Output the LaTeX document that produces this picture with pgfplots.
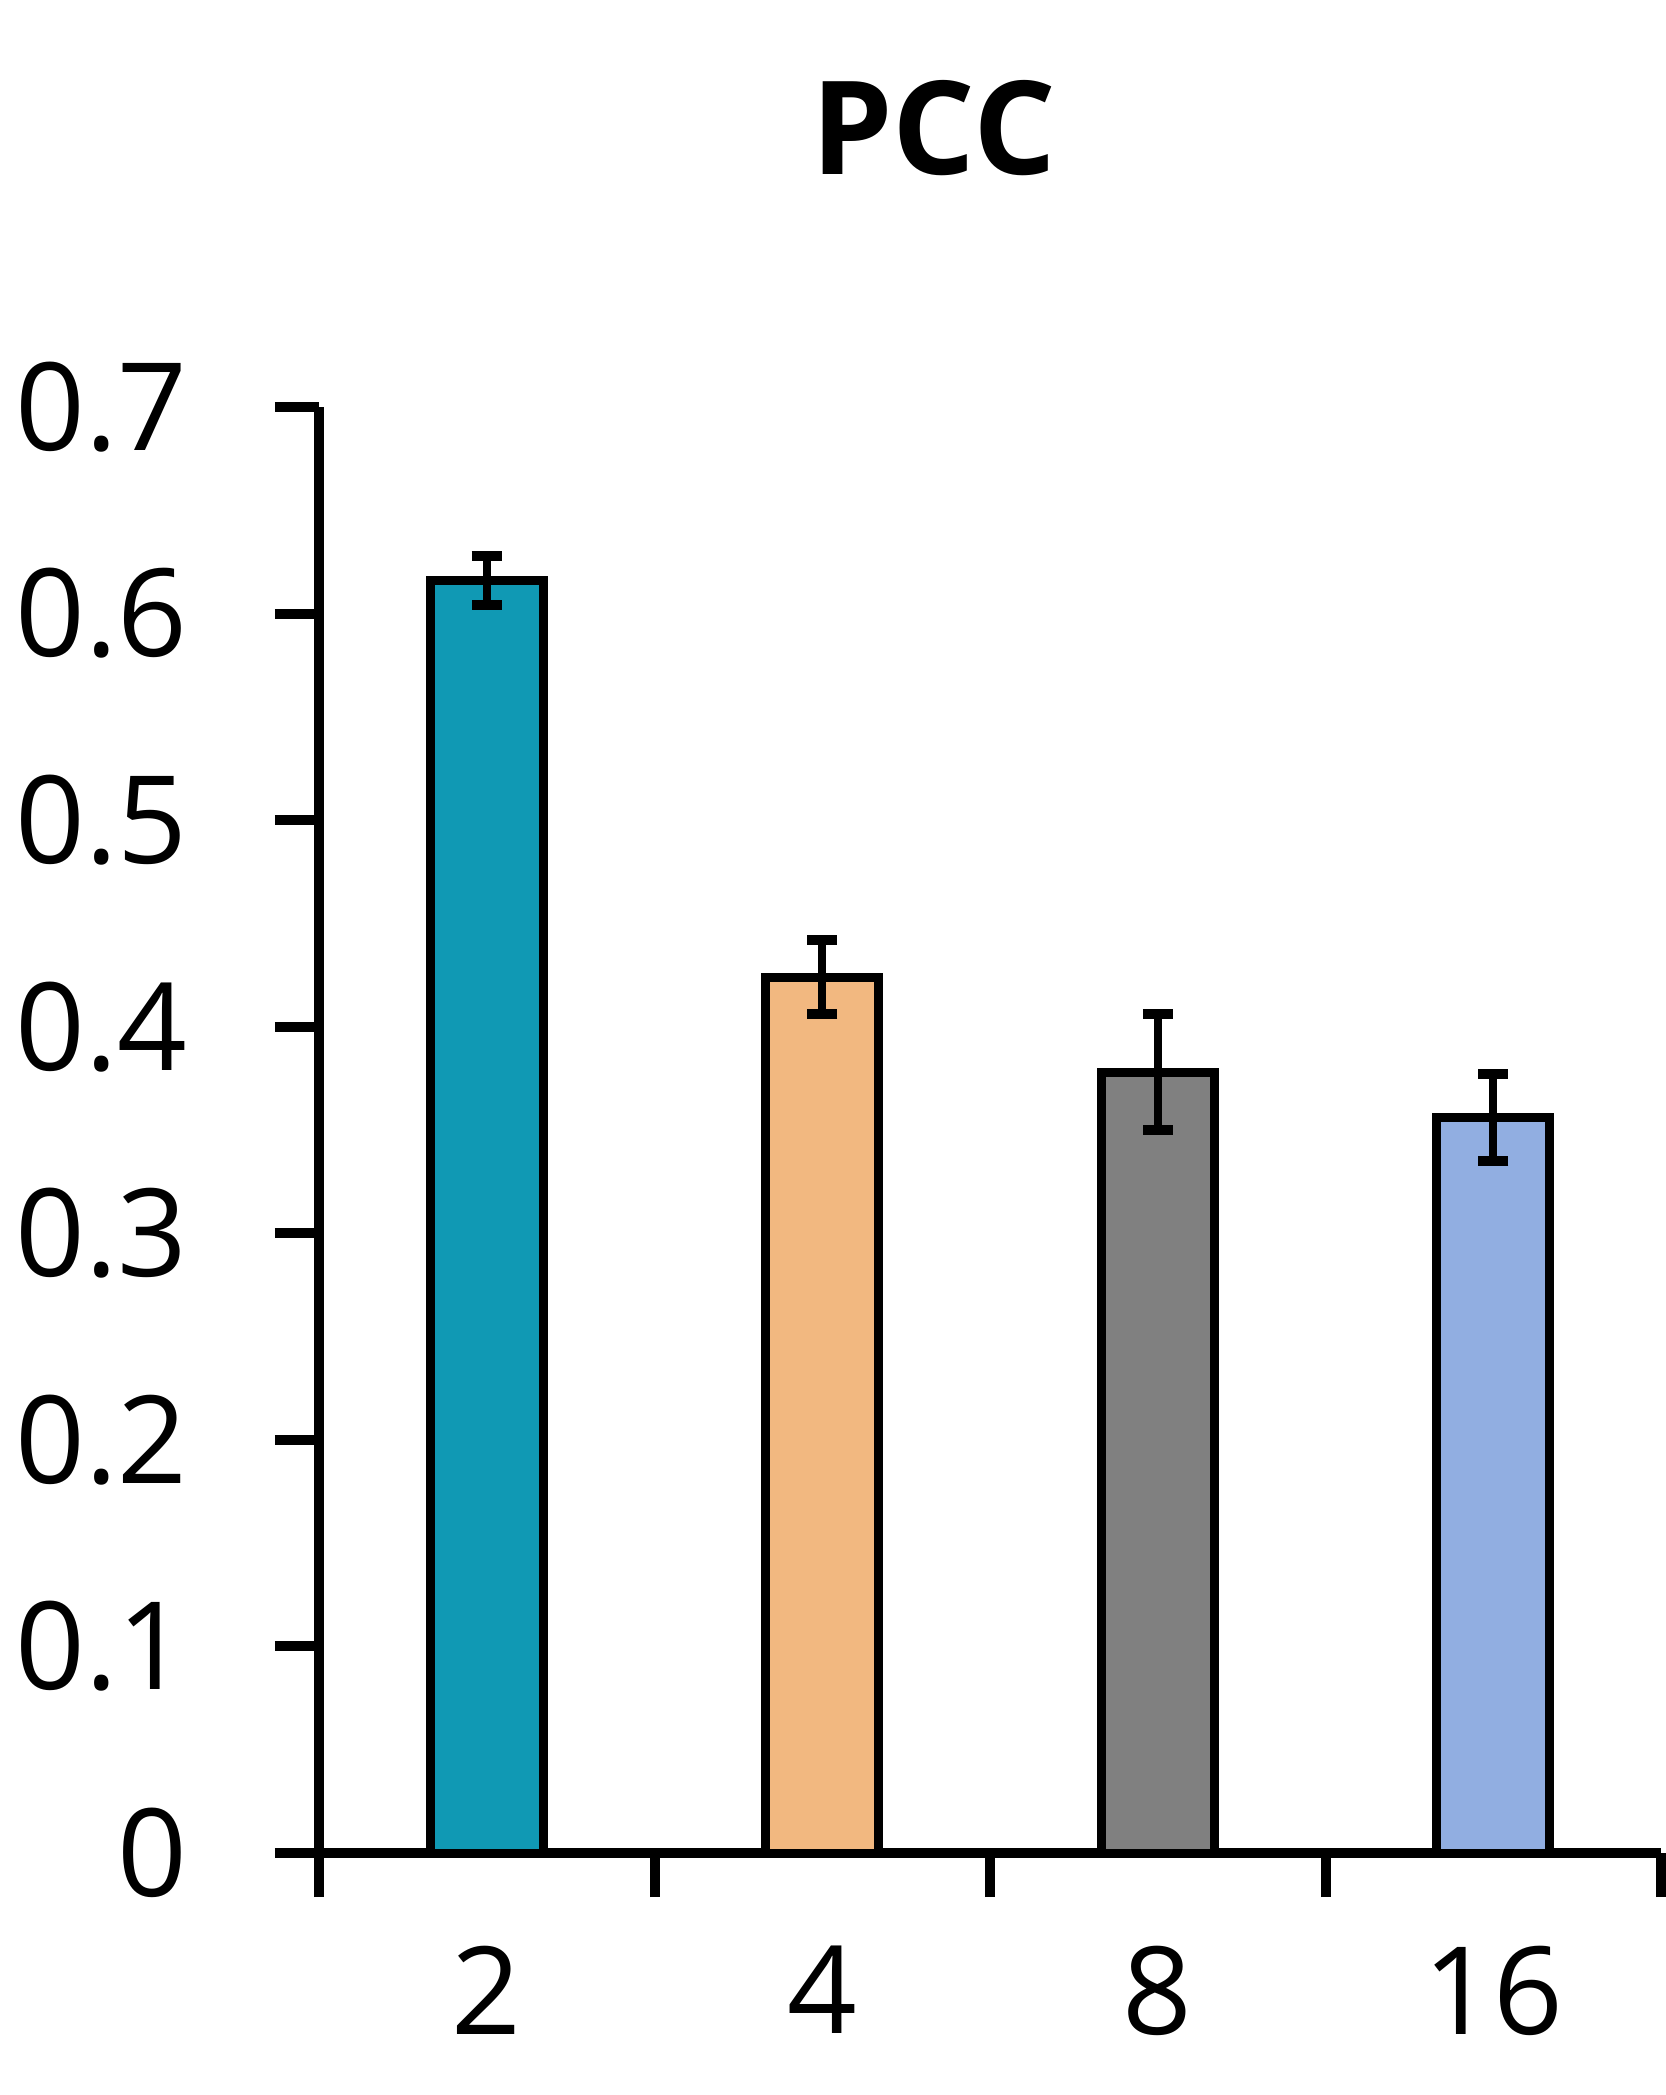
\documentclass[border=0pt]{standalone}
\usepackage{pgfplots}
\pgfplotsset{compat=1.18}
\usepackage{fontspec}
\setmainfont{Open Sans}
\definecolor{cteal}{HTML}{1099B4}
\definecolor{corange}{HTML}{F2B880}
\definecolor{cgray}{HTML}{808080}
\definecolor{cblue}{HTML}{91AEE1}
\begin{document}
\begin{tikzpicture}
\begin{axis}[
  scale only axis,
  width=335.5pt, height=361.5pt,
  xmin=-0.5, xmax=3.5, ymin=0, ymax=0.7,
  axis x line=bottom, axis y line=left,
  axis line style={-, line width=2.5pt},
  clip=false,
  xtick={0,1,2,3}, xticklabels={2,4,8,16},
  major x tick style={draw=none},
  minor xtick={-0.5,0.5,1.5,2.5,3.5},
  minor x tick style={line width=2.5pt, black},
  minor tick length=11pt,
  ytick={0,0.1,0.2,0.3,0.4,0.5,0.6,0.7},
  yticklabels={0,0.1,0.2,0.3,0.4,0.5,0.6,0.7},
  major y tick style={line width=2.5pt, black},
  major tick length=11pt,
  tick align=outside,
  tick label style={font=\fontsize{30.5}{36}\selectfont},
  yticklabel style={anchor=east, inner sep=0pt, xshift=-21.7pt},
  xticklabel style={anchor=north, inner sep=0pt, yshift=-12pt},
  ybar, bar width=0.336, bar shift=0pt,
  every axis plot/.append style={draw=black, line width=2.2pt},
  error bars/y dir=both, error bars/y explicit,
  error bars/error mark=|,
  error bars/error bar style={line width=2pt, black},
  error bars/error mark options={line width=2.5pt, mark size=3.75pt, black},
]
\addplot[fill=cteal] coordinates {(0,0.616) +- (0,0.012)};
\addplot[fill=corange] coordinates {(1,0.424) +- (0,0.018)};
\addplot[fill=cgray] coordinates {(2,0.378) +- (0,0.028)};
\addplot[fill=cblue] coordinates {(3,0.356) +- (0,0.021)};
\node[anchor=base, font=\fontsize{32.5}{38}\selectfont\bfseries] at ([yshift=58pt]rel axis cs:0.458,1) {PCC};
\coordinate (org) at (rel axis cs:0,0);
\end{axis}
\path (org) ++(-79.75pt,-60.5pt) rectangle ++(416pt,523.75pt);
\end{tikzpicture}
\end{document}
